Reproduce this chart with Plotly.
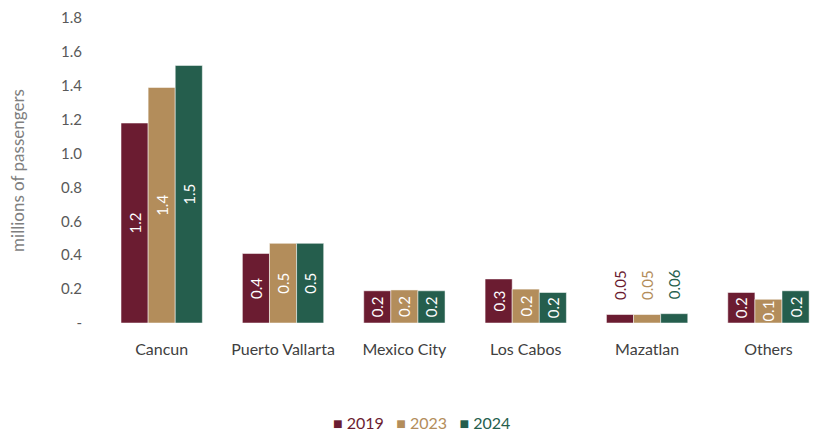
import plotly.graph_objects as go

categories = ["Cancun", "Puerto Vallarta", "Mexico City", "Los Cabos", "Mazatlan", "Others"]
years = ["2019", "2023", "2024"]
values_2019 = [1.18, 0.41, 0.19, 0.26, 0.05, 0.18]
values_2023 = [1.39, 0.47, 0.195, 0.20, 0.05, 0.14]
values_2024 = [1.52, 0.47, 0.19, 0.18, 0.055, 0.19]
labels_2019 = ["1.2", "0.4", "0.2", "0.3", "0.05", "0.2"]
labels_2023 = ["1.4", "0.5", "0.2", "0.2", "0.05", "0.1"]
labels_2024 = ["1.5", "0.5", "0.2", "0.2", "0.06", "0.2"]
label_positions = ["inside", "inside", "inside", "inside", "outside", "inside"]
colors = ["#6b1c31", "#b38d5b", "#255e4d"]
y_tickvals = [0, 0.2, 0.4, 0.6, 0.8, 1.0, 1.2, 1.4, 1.6, 1.8]
y_ticktext = ["-", "0.2", "0.4", "0.6", "0.8", "1.0", "1.2", "1.4", "1.6", "1.8"]

FONT = "Lato, 'Open Sans', sans-serif"
PAD = "\u00a0\u00a0\u00a0"

fig = go.Figure()
for name, vals, labs, col in zip(years, [values_2019, values_2023, values_2024],
                                 [labels_2019, labels_2023, labels_2024], colors):
    texts = [PAD + t if p == "outside" else t for t, p in zip(labs, label_positions)]
    fig.add_trace(go.Bar(
        x=categories, y=vals, name=name,
        marker=dict(color=col, line=dict(color="white", width=0.5)),
        text=texts, textposition=label_positions, textangle=-90,
        insidetextanchor="middle",
        insidetextfont=dict(color="white", size=15, family=FONT),
        outsidetextfont=dict(color=col, size=15, family=FONT),
        cliponaxis=False, showlegend=False, hoverinfo="skip",
    ))

# legend drawn as one line of coloured text
legend_text = "\u00a0\u00a0\u00a0".join(
    f"<span style='color:{c}'>\u25a0 {y}</span>" for y, c in zip(years, colors)
)
fig.add_annotation(text=legend_text, xref="paper", yref="paper", x=0.447, y=-0.327,
                   xanchor="center", yanchor="middle", showarrow=False,
                   font=dict(size=16, family=FONT))

fig.update_layout(
    width=817, height=432,
    margin=dict(l=101, r=0, t=18, b=109, autoexpand=False),
    plot_bgcolor="white", paper_bgcolor="white",
    barmode="group", bargap=0.33, bargroupgap=0,
    font=dict(family=FONT, color="#595959", size=14),
    uniformtext=dict(minsize=13, mode="show"),
    showlegend=False,
    xaxis=dict(range=[-0.5, 5.40], showline=False, showgrid=False, ticks="",
               automargin=False, fixedrange=True,
               tickfont=dict(size=16, color="#404040"), ticklabelstandoff=15),
    yaxis=dict(range=[0, 1.8], tickvals=y_tickvals, ticktext=y_ticktext,
               showgrid=False, showline=False, zeroline=False, ticks="",
               automargin=False, fixedrange=True,
               tickfont=dict(size=15, color="#595959"), ticklabelstandoff=18,
               title=dict(text="millions of passengers", font=dict(size=17, color="#7f7f7f"),
                          standoff=32)),
)

fig.write_html("out.html", config={"displayModeBar": False},
               post_script="document.body.style.margin='0';document.body.style.overflow='hidden';")
